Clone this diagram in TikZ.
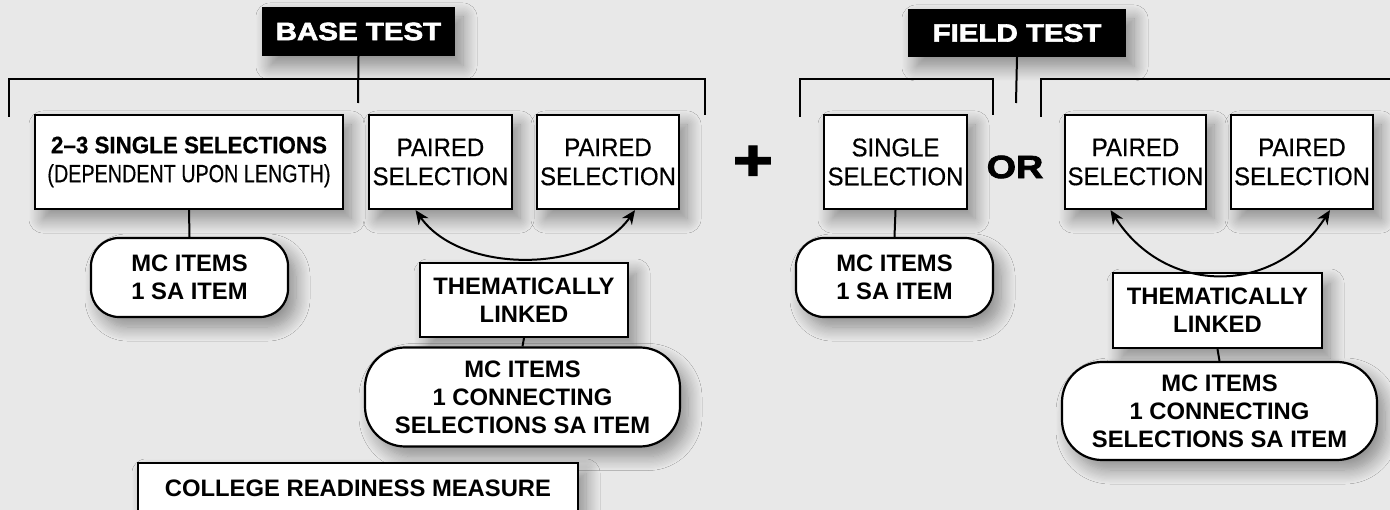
\documentclass[tikz,border=0pt]{standalone}
\usepackage{fontspec}
\setmainfont{Liberation Sans}
\newfontfamily\regf{Liberation Sans}[FakeStretch=0.94,FakeBold=0.5]
\newfontfamily\condf{Liberation Sans}[FakeStretch=0.79,FakeBold=0.3]
\newfontfamily\heavyf{Liberation Sans Bold}[FakeBold=2.5,FakeStretch=1.18]
\usetikzlibrary{arrows.meta,shadows.blur}
\definecolor{bgc}{HTML}{E8E8E8}
\tikzset{
  shdw/.style={blur shadow={shadow xshift=8pt, shadow yshift=-10pt, shadow blur radius=14pt, shadow blur steps=12, shadow opacity=40}},
  lbl/.style={font=\fontsize{25.5}{29}\regf, align=center, inner sep=0pt},
  sqbox/.style={lbl, draw=black, line width=2.2pt, fill=white, shdw},
  rndbox/.style={sqbox, rounded corners=28pt},
  rndbig/.style={sqbox, rounded corners=40pt},
  bfl/.style={font=\fontsize{23.8}{28}\bfseries},
  titlebox/.style={fill=black, text=white, inner sep=0pt, shdw,
    font=\fontsize{25}{28}\heavyf},
  conn/.style={line width=2pt, draw=black},
  twoway/.style={line width=2pt, {Stealth[length=14pt,width=12pt]}-{Stealth[length=14pt,width=12pt]}},
}
\begin{document}
\begin{tikzpicture}[x=1pt,y=-1pt]
\useasboundingbox (0,0) rectangle (1390,510);
\fill[bgc] (0,0) rectangle (1390,510);

% titles
\node[titlebox, minimum width=193pt, minimum height=49pt] (base) at (358.5,31.5) {BASE TEST};
\node[titlebox, minimum width=218pt, minimum height=48pt] (field) at (1017,33) {FIELD TEST};

% bracket coordinates
\coordinate (bl0) at (9,117);
\coordinate (bl1) at (9,79);
\coordinate (bl2) at (705,79);
\coordinate (bl3) at (705,115);
\coordinate (bmid) at (358,103);
\coordinate (fl0) at (800,117);
\coordinate (fl1) at (800,79);
\coordinate (fl2) at (993,79);
\coordinate (fl3) at (993,115);
\coordinate (fmid) at (1016,103);
\coordinate (fr0) at (1041,117);
\coordinate (fr1) at (1041,79);
\coordinate (fr2) at (1395,79);

\draw[conn] (bl0) -- (bl1) -- (bl2) -- (bl3);
\draw[conn] (base.south) -- (bmid);
\draw[conn] (fl0) -- (fl1) -- (fl2) -- (fl3);
\draw[conn] (field.south) -- (fmid);
\draw[conn] (fr0) -- (fr1) -- (fr2);

% selection boxes
\node[sqbox, minimum width=308pt, minimum height=94pt] (sel) at (189,162)
  {{\fontsize{23.8}{28}\bfseries 2–3 SINGLE SELECTIONS}\\{\fontsize{25}{28}\condf (DEPENDENT UPON LENGTH)}};
\node[sqbox, minimum width=143pt, minimum height=94pt] (p1) at (440.5,162) {PAIRED\\SELECTION};
\node[sqbox, minimum width=142pt, minimum height=94pt] (p2) at (608,162) {PAIRED\\SELECTION};
\node[sqbox, minimum width=143pt, minimum height=94pt] (single) at (895.5,162) {SINGLE\\SELECTION};
\node[sqbox, minimum width=141pt, minimum height=94pt] (p3) at (1135.5,162) {PAIRED\\SELECTION};
\node[sqbox, minimum width=142pt, minimum height=94pt] (p4) at (1302,162) {PAIRED\\SELECTION};

% operators
\node[inner sep=0pt, font=\fontsize{58}{58}\heavyf] (plus) at (753,163) {+};
\node[inner sep=0pt, font=\fontsize{32}{32}\heavyf] (or) at (1015,167) {OR};

% item boxes
\node[rndbox, bfl, minimum width=197pt, minimum height=79pt] (mc1) at (189.5,277.5) {MC ITEMS\\1 SA ITEM};
\node[rndbox, bfl, minimum width=197pt, minimum height=79pt] (mc2) at (894.5,277.5) {MC ITEMS\\1 SA ITEM};

\node[sqbox, bfl, minimum width=208pt, minimum height=74pt] (th1) at (524,300) {THEMATICALLY\\LINKED};
\node[sqbox, bfl, minimum width=209pt, minimum height=75pt] (th2) at (1217.5,310.5) {THEMATICALLY\\LINKED};

\node[rndbig, bfl, minimum width=315pt, minimum height=99pt] (mcc1) at (522.5,397) {MC ITEMS\\1 CONNECTING\\SELECTIONS SA ITEM};
\node[rndbig, bfl, minimum width=315pt, minimum height=98pt] (mcc2) at (1219.5,411) {MC ITEMS\\1 CONNECTING\\SELECTIONS SA ITEM};

\node[sqbox, bfl, minimum width=440pt, minimum height=50pt] (college) at (358,488) {COLLEGE READINESS MEASURE};

% connectors
\draw[conn] (sel.south) -- (mc1.north);
\draw[conn] (single.south) -- (mc2.north);
\draw[conn] (th1.south) -- (mcc1.north);
\draw[conn] (th2.south) -- (mcc2.north);

\draw[twoway] ([xshift=-25pt]p1.south) .. controls +(45,64) and +(-45,64) .. ([xshift=27pt]p2.south);
\draw[twoway] ([xshift=-25pt]p3.south) .. controls +(55,86) and +(-55,86) .. ([xshift=28pt]p4.south);
\end{tikzpicture}
\end{document}
